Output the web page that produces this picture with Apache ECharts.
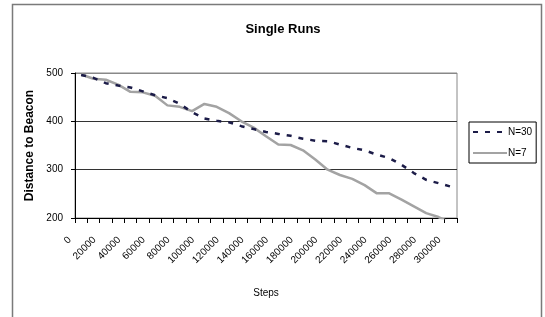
<!DOCTYPE html>
<html>
<head>
<meta charset="utf-8">
<script src="https://cdn.jsdelivr.net/npm/echarts@6/dist/echarts.min.js"></script>
<style>
* { margin: 0; padding: 0; }
html, body { background: #fff; }
#chart-container { width: 545px; height: 317px; }
</style>
</head>
<body>
<div id="chart-container"></div>
<script>
const steps = ['0', '10000', '20000', '30000', '40000', '50000', '60000', '70000', '80000', '90000',
  '100000', '110000', '120000', '130000', '140000', '150000', '160000', '170000', '180000', '190000',
  '200000', '210000', '220000', '230000', '240000', '250000', '260000', '270000', '280000', '290000', '300000']

const n30 = [496, 490, 479, 474, 470, 462, 454, 448, 436, 419,
  406, 401, 398, 390, 384, 378, 374, 370, 364, 360,
  359, 352, 345, 340, 331, 324, 310, 293, 279, 272, 265]

const n7 = [497, 488, 486, 476, 461, 460, 453, 433, 430, 421,
  436, 430, 417, 400, 387, 369, 352, 351, 340, 321,
  300, 289, 281, 268, 251, 251, 238, 224, 210, 202, 190]

const font = 'Liberation Sans, Arial, sans-serif'

const chart = echarts.init(document.getElementById('chart-container'), null, { renderer: 'canvas' })

const option = {
  animation: false,
  backgroundColor: '#fff',
  textStyle: { fontFamily: font },
  title: {
    text: 'Single Runs',
    left: 278,
    top: 18,
    textAlign: 'center',
    textStyle: { fontSize: 13, fontWeight: 'bold', color: '#000', fontFamily: font }
  },
  graphic: [
    {
      type: 'rect',
      shape: { x: 12.5, y: 4.5, width: 529, height: 400 },
      style: { fill: 'none', stroke: '#7a7a7a', lineWidth: 1.5 },
      silent: true,
      z: -1
    }
  ],
  legend: {
    orient: 'vertical',
    left: 469,
    top: 122,
    padding: [5, 4, 5, 3],
    itemWidth: 34,
    itemHeight: 12,
    itemGap: 11,
    borderColor: '#000',
    borderWidth: 1,
    backgroundColor: '#fff',
    // hide the round symbol, keep only the line sample
    itemStyle: { color: 'rgba(0,0,0,0)', borderWidth: 0 },
    textStyle: { fontSize: 10, color: '#000', fontFamily: font, padding: [0, 0, 0, -4] },
    data: ['N=30', 'N=7']
  },
  grid: {
    left: 75,
    right: 88,
    top: 73,
    bottom: 99,
    show: true,
    borderColor: '#888',
    borderWidth: 1,
    containLabel: false,
    outerBoundsMode: 'none'
  },
  xAxis: {
    type: 'category',
    data: steps,
    boundaryGap: true,
    name: 'Steps',
    nameLocation: 'middle',
    nameGap: 70,
    nameTextStyle: { fontSize: 10, color: '#000', fontFamily: font },
    axisLine: { lineStyle: { color: '#000', width: 1 } },
    axisTick: { show: true, interval: 0, length: 5, lineStyle: { color: '#000' } },
    axisLabel: {
      interval: 1,
      rotate: 45,
      margin: 9,
      fontSize: 10,
      color: '#000',
      fontFamily: font,
      padding: [0, 16, 0, 0]
    },
    splitLine: { show: false }
  },
  yAxis: {
    type: 'value',
    min: 200,
    max: 500,
    interval: 100,
    name: 'Distance to Beacon',
    nameLocation: 'middle',
    nameGap: 38,
    nameTextStyle: { fontSize: 12, fontWeight: 'bold', color: '#000', fontFamily: font },
    axisLine: { show: true, lineStyle: { color: '#000', width: 1 } },
    axisTick: { show: true, length: 4, lineStyle: { color: '#000' } },
    axisLabel: { margin: 12, fontSize: 10, color: '#000', fontFamily: font },
    splitLine: { show: true, lineStyle: { color: ['#000', '#333', '#333', '#888'], width: 1 } }
  },
  series: [
    {
      name: 'N=30',
      type: 'line',
      data: n30,
      symbol: 'none',
      lineStyle: { color: '#1c1c48', width: 2.5, type: [5, 7] },
      itemStyle: { color: '#1c1c48' },
      z: 3
    },
    {
      name: 'N=7',
      type: 'line',
      data: n7,
      symbol: 'none',
      lineStyle: { color: '#a3a3a3', width: 2.5 },
      itemStyle: { color: '#a3a3a3' },
      clip: true,
      z: 2
    }
  ]
}

chart.setOption(option)
</script>
</body>
</html>
